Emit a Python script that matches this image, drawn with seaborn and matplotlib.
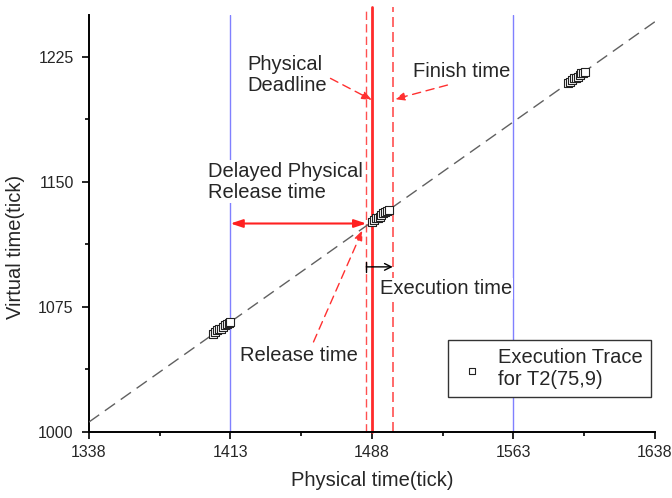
import matplotlib
matplotlib.use("Agg")
import matplotlib.pyplot as plt
import matplotlib.ticker as ticker
import seaborn as sns
import pandas as pd

# axis ticks
phys_ticks = [1338, 1413, 1488, 1563, 1638]
virt_ticks = [1000, 1075, 1150, 1225]

# execution trace of T2(75,9), three jobs
trace_phys = [1404, 1405, 1406, 1407, 1408, 1409, 1410, 1411, 1412, 1413,
              1488, 1489, 1490, 1491, 1492, 1493, 1494, 1495, 1496, 1497,
              1592, 1593, 1594, 1595, 1596, 1597, 1598, 1599, 1600, 1601]
trace_virt = [1059, 1060, 1061, 1061.5, 1062, 1063, 1064, 1065, 1065.5, 1066,
              1126, 1127, 1128, 1128.5, 1129, 1130, 1131, 1132, 1132.5, 1133,
              1209, 1210, 1211, 1212, 1212.5, 1213, 1214, 1215, 1215.5, 1216]

# reference (dashed) line
ref_phys = [1338, 1638]
ref_virt = [1006, 1246]

# vertical markers
period_lines = [1413, 1563]
deadline = 1488
release = 1485
finish = 1499

sns.set_theme(style="ticks")
plt.rcParams['font.family'] = ['Liberation Sans', 'DejaVu Sans']

fig, ax = plt.subplots(figsize=(6.72, 4.98), dpi=100)
plt.subplots_adjust(left=0.1324, right=0.9747, bottom=0.1325, top=0.9699)

for x in period_lines:
    ax.axvline(x, color='#8080ff', lw=1, zorder=1)
ax.axvline(deadline, color='#ff2a2a', lw=2, zorder=2, ymax=1.02, clip_on=False)
ax.axvline(release, color='#ff5050', lw=1, ls=(0, (6, 3)), zorder=2, ymax=1.02, clip_on=False)
ax.axvline(finish, color='#ff5050', lw=1.2, ls=(0, (6, 3)), zorder=2, ymax=1.02, clip_on=False)

sns.lineplot(x=ref_phys, y=ref_virt, ax=ax, color='#606060', lw=1,
             ls=(0, (9, 5)), zorder=3)

df = pd.DataFrame({'phys': trace_phys, 'virt': trace_virt})
sns.scatterplot(data=df, x='phys', y='virt', ax=ax, marker='s', s=30,
                facecolor='white', edgecolor='#222222', linewidth=0.8,
                label='Execution Trace\nfor T2(75,9)', zorder=4)

fs = 14.5
white = dict(facecolor='white', edgecolor='none', pad=1)
ax.text(1422, 1214, 'Physical\nDeadline', fontsize=fs, ha='left', va='center', linespacing=1.15)
ax.text(1510, 1216, 'Finish time', fontsize=fs, ha='left', va='center')
ax.text(1401, 1150, 'Delayed Physical\nRelease time', fontsize=fs, ha='left', va='center',
        linespacing=1.15, bbox=white, zorder=5)
ax.text(1492, 1086, 'Execution time', fontsize=fs, ha='left', va='center', bbox=white, zorder=5)
ax.text(1418, 1046, 'Release time', fontsize=fs, ha='left', va='center')

red_dash = dict(arrowstyle='-|>,head_length=0.5,head_width=0.2', color='#ff3030',
                lw=1, ls=(0, (6, 4)), shrinkA=0, shrinkB=0)
ax.annotate('', xy=(1488, 1199), xytext=(1466, 1212), arrowprops=red_dash)
ax.annotate('', xy=(1500, 1199.5), xytext=(1528, 1208), arrowprops=red_dash)
ax.annotate('', xy=(1483, 1121), xytext=(1457, 1054), arrowprops=red_dash)

ax.annotate('', xy=(1485, 1125), xytext=(1413, 1125),
            arrowprops=dict(arrowstyle='<|-|>,head_length=0.6,head_width=0.2', color='#ff2020',
                            lw=1.5, shrinkA=0, shrinkB=0))
ax.annotate('', xy=(1499, 1099), xytext=(1485, 1099),
            arrowprops=dict(arrowstyle=']->,widthA=0.3,lengthA=0', color='black',
                            lw=1, shrinkA=0, shrinkB=0))

ax.set_xlim(phys_ticks[0], phys_ticks[-1])
ax.set_ylim(1000, 1250)
ax.set_xticks(phys_ticks)
ax.set_yticks(virt_ticks)
ax.xaxis.set_minor_locator(ticker.AutoMinorLocator(2))
ax.yaxis.set_minor_locator(ticker.AutoMinorLocator(2))
ax.tick_params(which='major', direction='out', length=5, width=1.2, labelsize=11.5, color='black')
ax.tick_params(axis='y', which='major', pad=6)
ax.tick_params(axis='x', which='major', pad=4)
ax.tick_params(which='minor', direction='out', length=3, width=1.2, color='black')
sns.despine(ax=ax)
for s in ['left', 'bottom']:
    ax.spines[s].set_linewidth(1.4)
    ax.spines[s].set_color('black')

ax.set_xlabel('Physical time(tick)', fontsize=fs, labelpad=8)
ax.set_ylabel('Virtual time(tick)', fontsize=fs)
ax.yaxis.set_label_coords(-0.113, 0.444)

leg = ax.legend(loc='lower right', bbox_to_anchor=(0.993, 0.084), fontsize=fs,
                frameon=True, fancybox=False, edgecolor='#333333', framealpha=1,
                handlelength=1.6, handletextpad=0.5, borderpad=0.4, borderaxespad=0,
                markerscale=0.9)
leg.get_frame().set_linewidth(1)

fig.savefig('out.png', dpi=100)
